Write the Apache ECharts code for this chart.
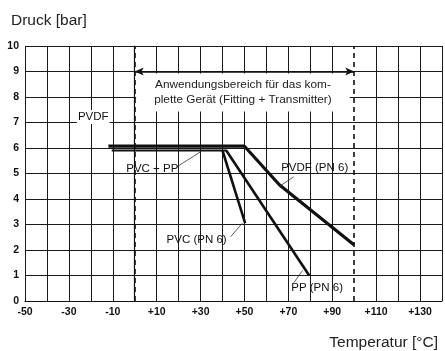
<!DOCTYPE html>
<html><head><meta charset="utf-8">
<script src="https://cdn.jsdelivr.net/npm/echarts@6/dist/echarts.min.js"></script>
<style>html,body{margin:0;padding:0;background:#fff}#c{width:445px;height:351px}</style>
</head><body><div id="c"></div>
<script>
// Data
const xMin = -50, xMax = 140, xStep = 10;
const yMin = 0, yMax = 10, yStep = 1;
const rangeBounds = [0, 100];          // Anwendungsbereich (°C)
const rangeArrowPressure = 9;

const pvdfTemp = [-12, 50, 66, 100];
const pvdfPress = [6.07, 6.07, 4.55, 2.2];
const pvcPpTemp = [-10.5, 42];
const pvcPpPress = [5.9, 5.9];
const pvcTemp = [40, 50.3];
const pvcPress = [5.9, 3.05];
const ppTemp = [41.7, 79.5];
const ppPress = [5.9, 1.0];

const labelNames = ['PVC + PP', 'PVDF (PN 6)', 'PVC (PN 6)', 'PP (PN 6)', 'PVDF'];
const labelTemp = [8, 82, 28.2, 83.1, -18.9];
const labelPress = [5.2, 5.22, 2.39, 0.51, 7.22];
const leaderFrom = [[19, 5.25], [72.4, 4.87], [43.7, 2.52], [72.5, 0.72]];
const leaderTo = [[30, 5.85], [66.4, 4.52], [49, 3.05], [76.5, 1.2]];
const rangeText = 'Anwendungsbereich für das kom-\nplette Gerät (Fitting + Transmitter)';
const rangeTextAt = [49.3, 8.18];

const F = "'Liberation Sans', Arial, sans-serif";
const nTicks = Math.round((xMax - xMin) / xStep) + 1;
const xSplitColors = [];
for (let i = 0; i < nTicks; i++) {
  const v = xMin + i * xStep;
  xSplitColors.push(rangeBounds.includes(v) ? 'rgba(0,0,0,0)' : '#1a1a1a');
}
const zip = (a, b) => a.map((v, i) => [v, b[i]]);
const curve = (t, p, w) => ({
  type: 'line', data: zip(t, p), symbol: 'none', z: 4,
  lineStyle: { color: '#111', width: w }, silent: true, animation: false
});

const series = [
  curve(pvdfTemp, pvdfPress, 3.2),
  curve(pvcPpTemp, pvcPpPress, 2),
  curve(pvcTemp, pvcPress, 2.6),
  curve(ppTemp, ppPress, 2.6),
  {
    type: 'line', data: [], symbol: 'none', z: 3, animation: false,
    markLine: {
      silent: true, symbol: 'none', label: { show: false }, animation: false,
      lineStyle: { color: '#111', width: 1.6, type: [5, 4] },
      data: rangeBounds.map(v => [{ coord: [v, yMin] }, { coord: [v, yMax] }])
    }
  },
  {
    type: 'line', data: [], symbol: 'none', z: 5, animation: false,
    markLine: {
      silent: true, symbol: ['arrow', 'arrow'], symbolSize: [6, 9], label: { show: false }, animation: false,
      lineStyle: { color: '#111', width: 1.6, type: 'solid' },
      data: [[{ coord: [rangeBounds[0], rangeArrowPressure] }, { coord: [rangeBounds[1], rangeArrowPressure] }]]
    }
  },
  {
    type: 'scatter', symbolSize: 0, z: 3, animation: false, silent: true,
    itemStyle: { opacity: 1 },
    data: [{ value: rangeTextAt, name: rangeText }],
    label: {
      show: true, position: 'inside', formatter: p => p.name,
      fontFamily: F, fontSize: 11.8, lineHeight: 15, color: '#222', align: 'center',
      backgroundColor: '#fff', padding: [4, 18, 4, 18]
    }
  },
  {
    type: 'scatter', symbolSize: 0, z: 6, animation: false, silent: true,
    itemStyle: { opacity: 1 },
    data: labelNames.map((n, i) => ({
      value: [labelTemp[i], labelPress[i]], name: n,
      label: n === 'PVDF' ? { backgroundColor: '#fff', padding: [1, 1] } : {}
    })),
    label: {
      show: true, position: 'inside', formatter: p => p.name,
      fontFamily: F, fontSize: 11.5, color: '#111'
    }
  }
];
leaderFrom.forEach((a, i) => {
  series.push({
    type: 'line', data: [a, leaderTo[i]], symbol: 'none', z: 5, animation: false, silent: true,
    lineStyle: { color: '#333', width: 0.8 }
  });
});

const chart = echarts.init(document.getElementById('c'), null, { renderer: 'canvas' });
chart.setOption({
  animation: false,
  backgroundColor: '#fff',
  title: [
    { text: 'Druck [bar]', left: 6, top: 8, textStyle: { fontFamily: F, fontSize: 15.5, fontWeight: 'normal', color: '#222' } },
    { text: 'Temperatur [°C]', right: 2, top: 330, textStyle: { fontFamily: F, fontSize: 15.5, fontWeight: 'normal', color: '#222' } }
  ],
  grid: { left: 25, right: 1, top: 46, bottom: 50, containLabel: false },
  xAxis: {
    type: 'value', min: xMin, max: xMax, interval: xStep,
    axisLine: { show: true, lineStyle: { color: '#111', width: 1.2 } },
    axisTick: { show: false },
    splitLine: { show: true, showMinLine: true, showMaxLine: true, lineStyle: { color: xSplitColors, width: 1 } },
    axisLabel: {
      margin: 6, fontFamily: F, fontSize: 10.5, color: '#111', fontWeight: 'bold',
      formatter: v => ((v - xMin) % (2 * xStep) === 0 ? (v > 0 ? '+' + v : String(v)) : '')
    }
  },
  yAxis: {
    type: 'value', min: yMin, max: yMax, interval: yStep,
    axisLine: { show: true, lineStyle: { color: '#111', width: 1.2 } },
    axisTick: { show: false },
    splitLine: { show: true, lineStyle: { color: '#1a1a1a', width: 1 } },
    axisLabel: { margin: 6, fontFamily: F, fontSize: 10.5, color: '#111', fontWeight: 'bold' }
  },
  series: series
});
</script></body></html>
